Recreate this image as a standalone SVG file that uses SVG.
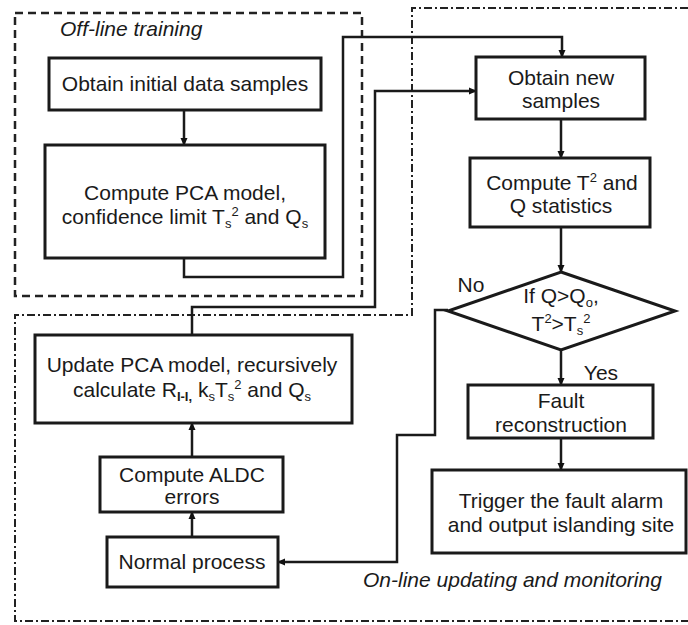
<svg xmlns="http://www.w3.org/2000/svg" width="688" height="625" viewBox="0 0 688 625">
<defs>
<marker id="ah" markerWidth="8" markerHeight="8" refX="7" refY="4" orient="auto" markerUnits="userSpaceOnUse">
<path d="M0,0.5 L8,4 L0,7.5 Z" fill="#111"/>
</marker>
<style>
.box{fill:#fff;stroke:#1a1a1a;stroke-width:3}
.t{font-family:"Liberation Sans",Arial,sans-serif;font-size:21px;fill:#1a1a1a;text-anchor:middle}
.it{font-family:"Liberation Sans",Arial,sans-serif;font-size:21px;font-style:italic;fill:#1a1a1a}
.c{fill:none;stroke:#1a1a1a;stroke-width:2.5;marker-end:url(#ah)}
.dash{fill:none;stroke:#222;stroke-width:2.5;stroke-dasharray:8 5}
.dd{fill:none;stroke:#222;stroke-width:2;stroke-dasharray:8 3 2 3}
</style>
</defs>
<rect width="688" height="625" fill="#fff"/>
<g id="regions">
<rect class="dash" x="15" y="13" width="347" height="283"/>
<path class="dd" d="M688,8 H412 V315 H15 V621 H688"/>
<text class="it" x="60" y="36">Off-line training</text>
<text class="it" x="363" y="587">On-line updating and monitoring</text>
</g>
<g id="connectors">
<path class="c" d="M184,110 V145"/>
<path class="c" d="M184,258 V277 H343 V37 H562 V57"/>
<path class="c" d="M192,335 V307 H375 V91 H476"/>
<path class="c" d="M561,119 V158"/>
<path class="c" d="M561,227 V272"/>
<path class="c" d="M561,350 V385"/>
<path class="c" d="M561,438 V470"/>
<path class="c" d="M448,310 H435 V435 H397 V562 H278"/>
<path class="c" d="M192,457 V423"/>
<path class="c" d="M192,537 V512"/>
<text class="t" x="471" y="292">No</text>
<text class="t" x="601" y="380">Yes</text>
</g>
<g id="n1">
<rect class="box" x="49" y="58" width="272" height="52"/>
<text class="t" x="185" y="91">Obtain initial data samples</text>
</g>
<g id="n2">
<rect class="box" x="45" y="145" width="280" height="113"/>
<text class="t" x="185" y="200">Compute PCA model,</text>
<text class="t" x="185" y="224">confidence limit T<tspan font-size="13" dy="4">s</tspan><tspan font-size="13" dy="-12">2</tspan><tspan dy="8"> and Q</tspan><tspan font-size="13" dy="4">s</tspan></text>
</g>
<g id="n3">
<rect class="box" x="476" y="57" width="169" height="62"/>
<text class="t" x="561" y="85">Obtain new</text>
<text class="t" x="561" y="108">samples</text>
</g>
<g id="n4">
<rect class="box" x="470" y="158" width="180" height="69"/>
<text class="t" x="562" y="190">Compute T<tspan font-size="13" dy="-8">2</tspan><tspan dy="8"> and</tspan></text>
<text class="t" x="561" y="213">Q statistics</text>
</g>
<g id="n5">
<path class="box" d="M561,272 L675,311 L561,350 L448,311 Z"/>
<text class="t" x="561" y="303">If Q&gt;Q<tspan font-size="13" dy="4">o</tspan><tspan dy="-4">,</tspan></text>
<text class="t" x="561" y="331">T<tspan font-size="13" dy="-8">2</tspan><tspan dy="8">&gt;T</tspan><tspan font-size="13" dy="4">s</tspan><tspan font-size="13" dy="-12">2</tspan></text>
</g>
<g id="n6">
<rect class="box" x="468" y="385" width="185" height="53"/>
<text class="t" x="561" y="408">Fault</text>
<text class="t" x="561" y="432">reconstruction</text>
</g>
<g id="n7">
<rect class="box" x="432" y="470" width="254" height="83"/>
<text class="t" x="561" y="508">Trigger the fault alarm</text>
<text class="t" x="561" y="532">and output islanding site</text>
</g>
<g id="n8">
<rect class="box" x="35" y="335" width="317" height="88"/>
<text class="t" x="192" y="372">Update PCA model, recursively</text>
<text class="t" x="192" y="397">calculate R<tspan font-size="13" font-weight="bold" dy="4">I-I,</tspan><tspan dy="-4"> k</tspan><tspan font-size="13" dy="4">s</tspan><tspan dy="-4">T</tspan><tspan font-size="13" dy="4">s</tspan><tspan font-size="13" dy="-12">2</tspan><tspan dy="8"> and Q</tspan><tspan font-size="13" dy="4">s</tspan></text>
</g>
<g id="n9">
<rect class="box" x="100" y="457" width="183" height="55"/>
<text class="t" x="192" y="482">Compute ALDC</text>
<text class="t" x="192" y="504">errors</text>
</g>
<g id="n10">
<rect class="box" x="107" y="537" width="171" height="50"/>
<text class="t" x="192" y="569">Normal process</text>
</g>
</svg>
